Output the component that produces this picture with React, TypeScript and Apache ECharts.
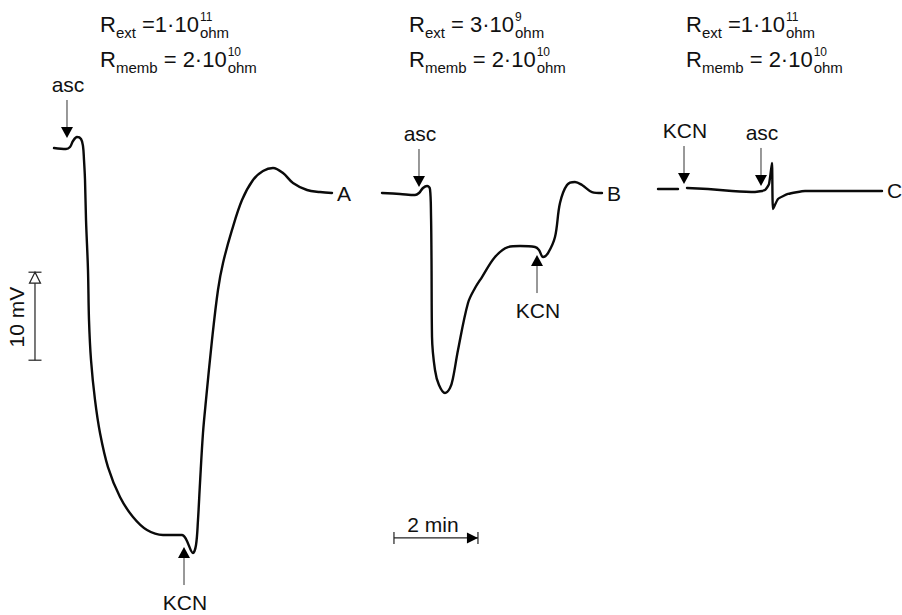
import React, { useEffect, useRef } from "react";
import * as echarts from "echarts";

const FONT = '"Liberation Sans", Arial, Helvetica, sans-serif';

// Recorder traces: [time (min), potential (mV)]
const traceA: [number, number][] = [
  [1.286, 5.11], [1.571, 5.0], [1.667, 5.23], [1.738, 5.91], [1.833, 6.36], [1.929, 6.14],
  [1.976, 5.34], [2.0, 3.75], [2.024, 1.48], [2.048, -3.07], [2.095, -8.75], [2.119, -14.43],
  [2.167, -18.98], [2.262, -23.52], [2.381, -27.27], [2.571, -31.14], [2.857, -34.55],
  [3.167, -36.82], [3.5, -38.3], [3.881, -38.86], [4.333, -38.86], [4.429, -39.32],
  [4.595, -40.91], [4.667, -40.0], [4.714, -37.16], [4.762, -32.95], [4.833, -27.27],
  [4.905, -23.52], [5.048, -16.7], [5.19, -11.02], [5.31, -7.95], [5.524, -4.2],
  [5.762, -0.8], [6.024, 1.48], [6.262, 2.5], [6.5, 2.84], [6.738, 2.27], [6.976, 1.14],
  [7.31, 0.34], [7.619, 0.11], [7.905, 0],
];
const traceB: [number, number][] = [
  [9.095, 0], [9.524, -0.11], [9.881, -0.23], [9.976, 0], [10.071, 0.57], [10.167, 0.8],
  [10.238, 0.45], [10.262, -2.5], [10.274, -7.61], [10.286, -16.36], [10.357, -20.11],
  [10.452, -21.82], [10.595, -22.73], [10.714, -22.16], [10.786, -21.02], [10.905, -17.84],
  [11.143, -12.5], [11.31, -10.8], [11.476, -9.55], [11.786, -7.27], [12.095, -6.14], [12.381, -6.02],
  [12.738, -6.14], [12.833, -6.48], [12.929, -7.27], [13.048, -6.82], [13.214, -5.0],
  [13.333, -1.14], [13.5, 0.91], [13.69, 1.25], [13.857, 0.91], [14.095, 0.11], [14.333, 0],
];
const traceC1: [number, number][] = [
  [15.667, 0.45], [16.143, 0.45],
];
const traceC2: [number, number][] = [
  [16.357, 0.57], [16.857, 0.45], [17.429, 0.23], [17.976, 0.11], [18.214, 0.34],
  [18.31, 1.02], [18.381, 3.41], [18.405, -1.82], [18.524, -0.68], [18.762, -0.11],
  [19.167, 0.23], [20.0, 0.23], [21.0, 0.23],
];
const traceNames = ["A", "B", "C"];

// Additions (arrows): label, time (min), potential at arrow tip (mV), direction
const additionLabels = ["asc", "KCN", "asc", "KCN", "KCN", "asc"];
const additionTimes = [1.595, 4.381, 9.976, 12.786, 16.286, 18.119];
const additionTips = [6.25, -40.23, 0.68, -7.05, 1.02, 0.8];
const additionDirs = ["down", "up", "down", "up", "down", "down"];

// Calibration bars
const voltBarLabel = "10 mV";
const voltBarTime = 0.833;
const voltBarRange = [-19, -9];
const timeBarLabel = "2 min";
const timeBarLevel = -39.2;
const timeBarRange = [9.38, 11.38];

// Resistances above each trace
const rextCoef = [" =1·10", " = 3·10", " =1·10"];
const rextExp = ["11", "9", "11"];
const rmembCoef = [" = 2·10", " = 2·10", " = 2·10"];
const rmembExp = ["10", "10", "10"];

// Page mapping (42 px per min, 8.8 px per mV)
const X_MAX = 902 / 42;
const Y_MAX = 193 / 8.8;
const Y_MIN = -422 / 8.8;

const TITLE_X = [100, 409, 686];
const TITLE_BASE = [32, 67];

let measureCtx: CanvasRenderingContext2D | null = null;
function tw(s: string, size: number) {
  if (!measureCtx) measureCtx = document.createElement("canvas").getContext("2d");
  measureCtx!.font = `${size}px ${FONT}`;
  return measureCtx!.measureText(s).width;
}

function formula(x0: number, baseline: number, sub: string, coef: string, exp: string) {
  const els: any[] = [];
  let x = x0;
  const put = (text: string, size: number, dy: number, xx: number) => {
    els.push({
      type: "text",
      x: xx,
      y: baseline + dy - 0.347 * size,
      silent: true,
      style: {
        text, fontSize: size, fontFamily: FONT, fill: "#111",
        align: "left", verticalAlign: "middle",
      },
    });
  };
  put("R", 22, 0, x); x += tw("R", 22);
  put(sub, 15, 6, x); x += tw(sub, 15);
  put(coef, 22, 0, x); x += tw(coef, 22) + 1;
  put(exp, 12, -11, x);
  put("ohm", 15, 6, x);
  return els;
}

function lineSeries(name: string, data: [number, number][], label: boolean, smooth: number) {
  return {
    type: "line",
    name,
    data,
    silent: true,
    showSymbol: false,
    symbol: "none",
    smooth,
    lineStyle: { color: "#0a0a0a", width: 2.4, join: "round", cap: "round" },
    endLabel: {
      show: label,
      formatter: () => name,
      distance: 5,
      color: "#111",
      fontSize: 21,
      fontFamily: FONT,
    },
    z: 3,
  };
}

export default function App() {
  const ref = useRef<HTMLDivElement>(null);
  useEffect(() => {
    if (!ref.current) return;
    const chart = echarts.init(ref.current, null, { renderer: "svg" });

    const titles: any[] = [];
    for (let i = 0; i < 3; i++) {
      titles.push(...formula(TITLE_X[i], TITLE_BASE[0], "ext", rextCoef[i], rextExp[i]));
      titles.push(...formula(TITLE_X[i], TITLE_BASE[1], "memb", rmembCoef[i], rmembExp[i]));
    }

    const option: any = {
      animation: false,
      backgroundColor: "#ffffff",
      grid: { left: 0, right: 0, top: 0, bottom: 0, containLabel: false },
      xAxis: { type: "value", min: 0, max: X_MAX, show: false },
      yAxis: { type: "value", min: Y_MIN, max: Y_MAX, show: false },
      graphic: { elements: titles },
      series: [
        lineSeries(traceNames[0], traceA, true, 0.35),
        lineSeries(traceNames[1], traceB, true, 0.35),
        lineSeries(traceNames[2] + "0", traceC1, false, 0),
        lineSeries(traceNames[2], traceC2, true, 0.15),
        {
          type: "custom",
          name: "additions",
          silent: true,
          clip: false,
          z: 4,
          data: additionTimes.map((t, i) => [t, additionTips[i]]),
          renderItem: (params: any, api: any) => {
            const i = params.dataIndex;
            const p = api.coord([api.value(0), api.value(1)]);
            const x = p[0];
            const y = p[1];
            const s = additionDirs[i] === "down" ? -1 : 1;
            const head = 11;
            const hw = 6;
            const len = 38;
            const ty = s < 0 ? y - 46 - 7.3 : y + 63 - 7.3;
            return {
              type: "group",
              children: [
                {
                  type: "polygon",
                  shape: { points: [[x, y], [x - hw, y + s * head], [x + hw, y + s * head]] },
                  style: { fill: "#000" },
                },
                {
                  type: "line",
                  shape: { x1: x, y1: y + s * head, x2: x, y2: y + s * len },
                  style: { stroke: "#333", lineWidth: 1 },
                },
                {
                  type: "text",
                  x: x + 1,
                  y: ty,
                  style: {
                    text: additionLabels[i], fontSize: 21, fontFamily: FONT, fill: "#111",
                    align: "center", verticalAlign: "middle",
                  },
                },
              ],
            };
          },
        },
        {
          type: "custom",
          name: "calibration",
          silent: true,
          clip: false,
          z: 4,
          encode: { x: [0, 2], y: [1, 3] },
          data: [
            [voltBarTime, voltBarRange[0], voltBarTime, voltBarRange[1]],
            [timeBarRange[0], timeBarLevel, timeBarRange[1], timeBarLevel],
          ],
          renderItem: (params: any, api: any) => {
            const a = api.coord([api.value(0), api.value(1)]);
            const b = api.coord([api.value(2), api.value(3)]);
            const stroke = { stroke: "#222", lineWidth: 1.2 };
            if (params.dataIndex === 0) {
              const x = a[0];
              const yb = a[1];
              const yt = b[1];
              return {
                type: "group",
                children: [
                  { type: "line", shape: { x1: x, y1: yb, x2: x, y2: yt }, style: stroke },
                  { type: "line", shape: { x1: x - 6.5, y1: yb, x2: x + 6.5, y2: yb }, style: stroke },
                  { type: "line", shape: { x1: x - 6.5, y1: yt, x2: x + 6.5, y2: yt }, style: stroke },
                  {
                    type: "polygon",
                    shape: { points: [[x, yt], [x - 5.5, yt + 11], [x + 5.5, yt + 11]] },
                    style: { fill: "#fff", stroke: "#222", lineWidth: 1.2 },
                  },
                  {
                    type: "text",
                    x: x - 18,
                    y: (yb + yt) / 2 + 1,
                    rotation: Math.PI / 2,
                    style: {
                      text: voltBarLabel, fontSize: 21, fontFamily: FONT, fill: "#111",
                      align: "center", verticalAlign: "middle",
                    },
                  },
                ],
              };
            }
            const y = a[1];
            const xl = a[0];
            const xr = b[0];
            return {
              type: "group",
              children: [
                { type: "line", shape: { x1: xl, y1: y, x2: xr, y2: y }, style: stroke },
                { type: "line", shape: { x1: xl, y1: y - 6, x2: xl, y2: y + 6 }, style: stroke },
                { type: "line", shape: { x1: xr, y1: y - 6, x2: xr, y2: y + 6 }, style: stroke },
                {
                  type: "polygon",
                  shape: { points: [[xr, y], [xr - 11, y - 5.5], [xr - 11, y + 5.5]] },
                  style: { fill: "#000" },
                },
                {
                  type: "text",
                  x: (xl + xr) / 2 - 3,
                  y: y - 13.5,
                  style: {
                    text: timeBarLabel, fontSize: 21, fontFamily: FONT, fill: "#111",
                    align: "center", verticalAlign: "middle",
                  },
                },
              ],
            };
          },
        },
      ],
    };
    chart.setOption(option);
    return () => chart.dispose();
  }, []);

  return (
    <div
      ref={ref}
      style={{ position: "fixed", left: 0, top: 0, width: 902, height: 615, background: "#fff" }}
    />
  );
}
